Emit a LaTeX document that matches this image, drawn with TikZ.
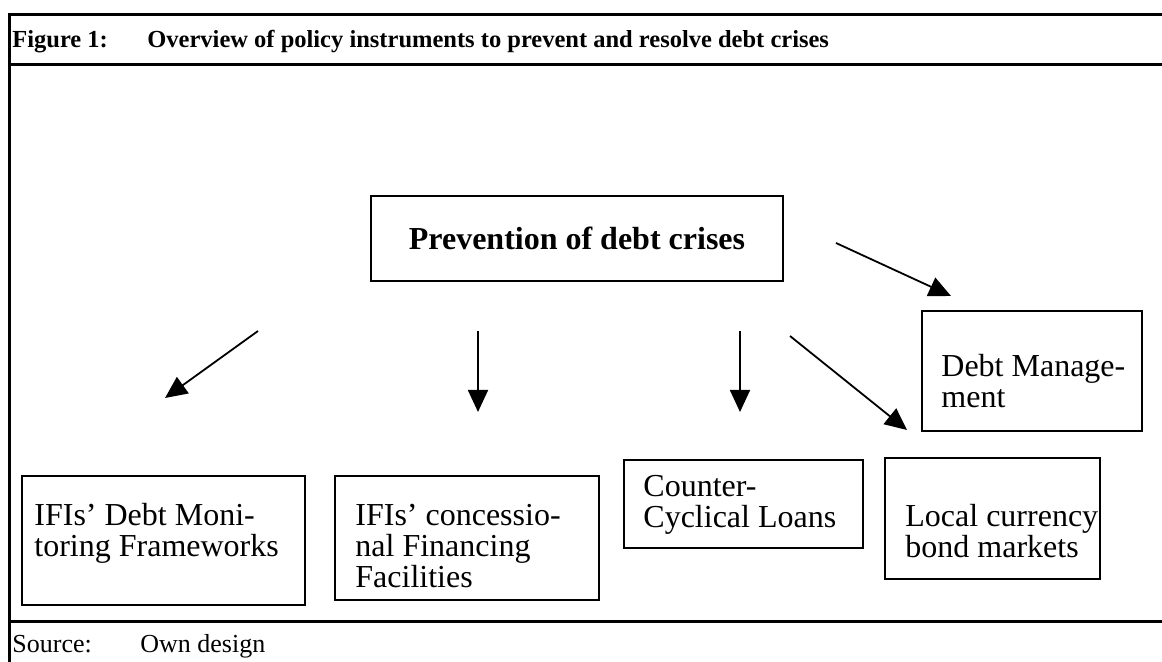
\documentclass[tikz,border=0pt]{standalone}
\usepackage{fontspec}
\setmainfont{Liberation Serif}
\usetikzlibrary{positioning}
\usetikzlibrary{arrows.meta}
\tikzset{node distance=2.5cm,
    frameline/.style={
        line width=1.5pt},
    box/.style={
        draw,
        line width=0.9pt,
        inner sep=0pt,
        anchor=north west},
    boxtext/.style={
        font=\fontsize{16}{15.5}\selectfont,
        align=left,
        inner sep=0pt,
        anchor=base west},
    titletext/.style={
        font=\fontsize{12.25}{14}\selectfont\bfseries,
        inner sep=0pt,
        anchor=base west},
    srctext/.style={
        font=\fontsize{13}{15}\selectfont,
        inner sep=0pt,
        anchor=base west},
    every edge/.style={
        draw,
        -{Triangle[length=11pt,width=10pt]},
        line width=0.9pt}}

\begin{document}
\begin{tikzpicture}[x=0.5pt,y=-0.5pt]
        \useasboundingbox (0,0) rectangle (1162,662);
        % frame
        \draw[frameline] (1162,15) -- (9,15) -- (9,662);
        \draw[frameline] (9,65) -- (1162,65);
        \draw[frameline] (9,621) -- (1162,621);
        \node[titletext] (fig) at (12,48) {Figure 1:};
        \node[titletext] (title) at (147,48) {Overview of policy instruments to prevent and resolve debt crises};
        \node[srctext] (src) at (12,652) {Source:};
        \node[srctext] (own) at (140,652) {Own design};
        % boxes
        \node[draw, line width=0.9pt, inner sep=0pt, minimum width=206pt, minimum height=42.5pt,
            font=\fontsize{16}{18}\selectfont\bfseries] (prev) at (577,238.5) {Prevention of debt crises};
        \node[box, minimum width=110pt, minimum height=60pt] (mgmt) at (921,310) {};
        \node[box, minimum width=141.5pt, minimum height=64.5pt] (monit) at (21,475) {};
        \node[box, minimum width=132pt, minimum height=62pt] (conc) at (334,475) {};
        \node[box, minimum width=119.5pt, minimum height=44pt] (cycl) at (623,459) {};
        \node[box, minimum width=107.5pt, minimum height=60.5pt] (local) at (884,457) {};
        % texts (base = last line)
        \node[boxtext] (mgmttxt) at (941,408) {Debt Manage-\\ment};
        \node[boxtext] (monittxt) at (34,556) {IFIs’ Debt Moni-\\toring Frameworks};
        \node[boxtext] (conctxt) at (355,587) {IFIs’ concessio-\\nal Financing\\Facilities};
        \node[boxtext] (cycltxt) at (643,527) {Counter-\\Cyclical Loans};
        \node[boxtext] (localtxt) at (905,557) {Local currency\\bond markets};
        % arrows
        \coordinate (s1) at (258,331);
        \coordinate (e1) at (165,398);
        \coordinate (s2) at (478,331);
        \coordinate (e2) at (478,412);
        \coordinate (s3) at (740,331);
        \coordinate (e3) at (740,412);
        \coordinate (s4) at (790,336);
        \coordinate (e4) at (907,430);
        \coordinate (s5) at (836,243);
        \coordinate (e5) at (951,296);
        \draw (s1) edge (e1);
        \draw (s2) edge (e2);
        \draw (s3) edge (e3);
        \draw (s4) edge (e4);
        \draw (s5) edge (e5);
\end{tikzpicture}
\end{document}
